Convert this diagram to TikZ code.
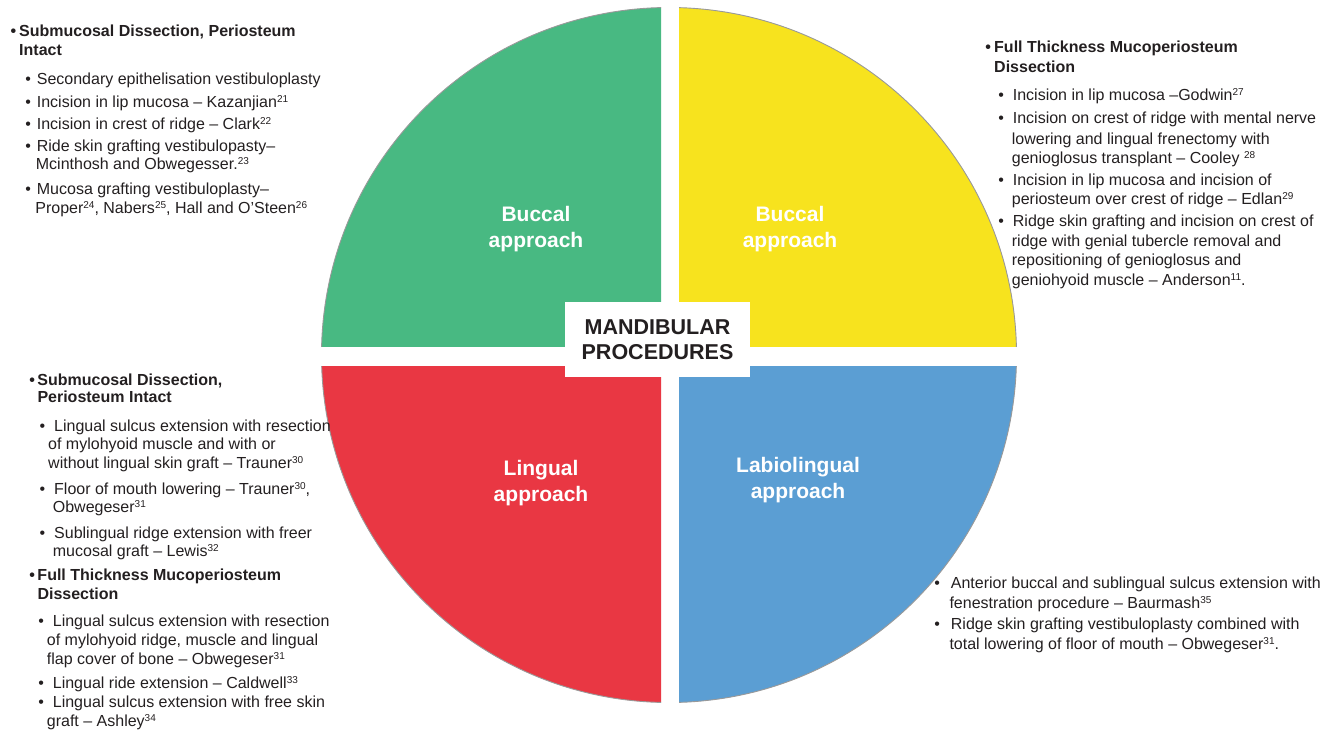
\documentclass[tikz,border=0pt]{standalone}
\usepackage{fontspec}
\setmainfont{Liberation Sans}
\definecolor{bucgreen}{RGB}{72,185,130}
\definecolor{bucyellow}{RGB}{247,227,30}
\definecolor{lingred}{RGB}{233,55,67}
\definecolor{labblue}{RGB}{91,158,211}
\definecolor{txtgray}{RGB}{35,31,32}
\tikzset{
  quad/.style={draw=black!40, line width=0.9pt},
  approach/.style={text=white, align=center, inner sep=0pt,
    font=\fontsize{21}{25.5}\selectfont\bfseries},
  centrebox/.style={fill=white, minimum width=185pt, minimum height=75pt, inner sep=0pt,
    align=center, text=txtgray, font=\fontsize{21.5}{25.5}\selectfont\bfseries},
  proclist/.style={anchor=north west, inner sep=0pt, align=left, text=txtgray,
    font=\fontsize{16}{19}\selectfont}
}
\newcommand{\hbul}[1]{\llap{\textbf{\textbullet}\hspace{#1}}}
\newcommand{\sbul}[1]{\llap{\textbullet\hspace{#1}}}
\newcommand{\refn}[1]{\raisebox{5pt}{\fontsize{10}{10}\selectfont#1}}
\begin{document}
\begin{tikzpicture}[x=1pt, y=-1pt]
\useasboundingbox (0,0) rectangle (1332,731);
\coordinate (ctr) at (669,355);
% four quarters of the disc
\foreach \qcol/\xa/\ya/\xb/\yb in {bucgreen/300/0/661/346, bucyellow/679/0/1040/346,
    lingred/300/366/661/731, labblue/679/366/1040/731}{
  \begin{scope}
    \clip (\xa,\ya) rectangle (\xb,\yb);
    \filldraw[quad, fill=\qcol] (ctr) circle (347.5pt);
  \end{scope}
}
\node[centrebox] (mand) at (657.5,339.5) {MANDIBULAR\\PROCEDURES};
\node[approach] (bucl) at (536,229) {Buccal\\approach};
\node[approach] (bucr) at (790,229) {Buccal\\approach};
\node[approach] (ling) at (541,483) {Lingual\\approach};
\node[approach] (labl) at (798,480) {Labiolingual\\approach};
% buccal, periosteum intact
\node[proclist] (bucltxt) at (19,25.1) {%
\hbul{3pt}\textbf{Submucosal Dissection, Periosteum}\\[-0.7pt]
\textbf{Intact}\\[10.2pt]
\hspace*{17.7pt}\sbul{6pt}Secondary epithelisation vestibuloplasty\\[4pt]
\hspace*{17.7pt}\sbul{6pt}Incision in lip mucosa – Kazanjian\refn{21}\\[3pt]
\hspace*{17.7pt}\sbul{6pt}Incision in crest of ridge – Clark\refn{22}\\[3pt]
\hspace*{17.7pt}\sbul{6pt}Ride skin grafting vestibulopasty–\\[-0.7pt]
\hspace*{16.7pt}Mcinthosh and Obwegesser.\refn{23}\\[6pt]
\hspace*{17.7pt}\sbul{6pt}Mucosa grafting vestibuloplasty–\\[-0.6pt]
\hspace*{16.2pt}Proper\refn{24}, Nabers\refn{25}, Hall and O’Steen\refn{26}};
% buccal, full thickness
\node[proclist] (bucrtxt) at (994,41.1) {%
\hbul{3.2pt}\textbf{Full Thickness Mucoperiosteum}\\[1pt]
\textbf{Dissection}\\[9pt]
\hspace*{18.7pt}\sbul{9pt}Incision in lip mucosa –Godwin\refn{27}\\[4pt]
\hspace*{18.7pt}\sbul{9pt}Incision on crest of ridge with mental nerve\\[1.6pt]
\hspace*{17.7pt}lowering and lingual frenectomy with\\[0.4pt]
\hspace*{17.7pt}genioglosus transplant – Cooley \refn{28}\\[2.3pt]
\hspace*{18.7pt}\sbul{9pt}Incision in lip mucosa and incision of\\[0.3pt]
\hspace*{17.7pt}periosteum over crest of ridge – Edlan\refn{29}\\[3.4pt]
\hspace*{18.7pt}\sbul{9pt}Ridge skin grafting and incision on crest of\\[0.3pt]
\hspace*{17.7pt}ridge with genial tubercle removal and\\
\hspace*{17.7pt}repositioning of genioglosus and\\[1pt]
\hspace*{17.7pt}geniohyoid muscle – Anderson\refn{11}.};
% lingual
\node[proclist] (lingtxt) at (37.3,373.4) {%
\hbul{2.5pt}\textbf{Submucosal Dissection,}\\[-1.7pt]
\textbf{Periosteum Intact}\\[9.7pt]
\hspace*{16.7pt}\sbul{9pt}Lingual sulcus extension with resection\\[-0.3pt]
\hspace*{10.7pt}of mylohyoid muscle and with or\\
\hspace*{10.7pt}without lingual skin graft – Trauner\refn{30}\\[6.6pt]
\hspace*{16.7pt}\sbul{9pt}Floor of mouth lowering – Trauner\refn{30},\\[-0.6pt]
\hspace*{15.4pt}Obwegeser\refn{31}\\[6.6pt]
\hspace*{16.7pt}\sbul{9pt}Sublingual ridge extension with freer\\[-0.6pt]
\hspace*{15.4pt}mucosal graft – Lewis\refn{32}\\[5pt]
\hbul{2.5pt}\textbf{Full Thickness Mucoperiosteum}\\
\textbf{Dissection}\\[7.6pt]
\hspace*{15.4pt}\sbul{9pt}Lingual sulcus extension with resection\\
\hspace*{9.4pt}of mylohyoid ridge, muscle and lingual\\
\hspace*{9.4pt}flap cover of bone – Obwegeser\refn{31}\\[5pt]
\hspace*{15.4pt}\sbul{9pt}Lingual ride extension – Caldwell\refn{33}\\
\hspace*{15.4pt}\sbul{9pt}Lingual sulcus extension with free skin\\
\hspace*{9.4pt}graft – Ashley\refn{34}};
% labiolingual
\node[proclist] (labltxt) at (949.3,576.9) {%
\hspace*{1.4pt}\sbul{11pt}Anterior buccal and sublingual sulcus extension with\\[0.3pt]
fenestration procedure – Baurmash\refn{35}\\[2.7pt]
\hspace*{1.4pt}\sbul{11pt}Ridge skin grafting vestibuloplasty combined with\\[0.3pt]
total lowering of floor of mouth – Obwegeser\refn{31}.};
\end{tikzpicture}
\end{document}
